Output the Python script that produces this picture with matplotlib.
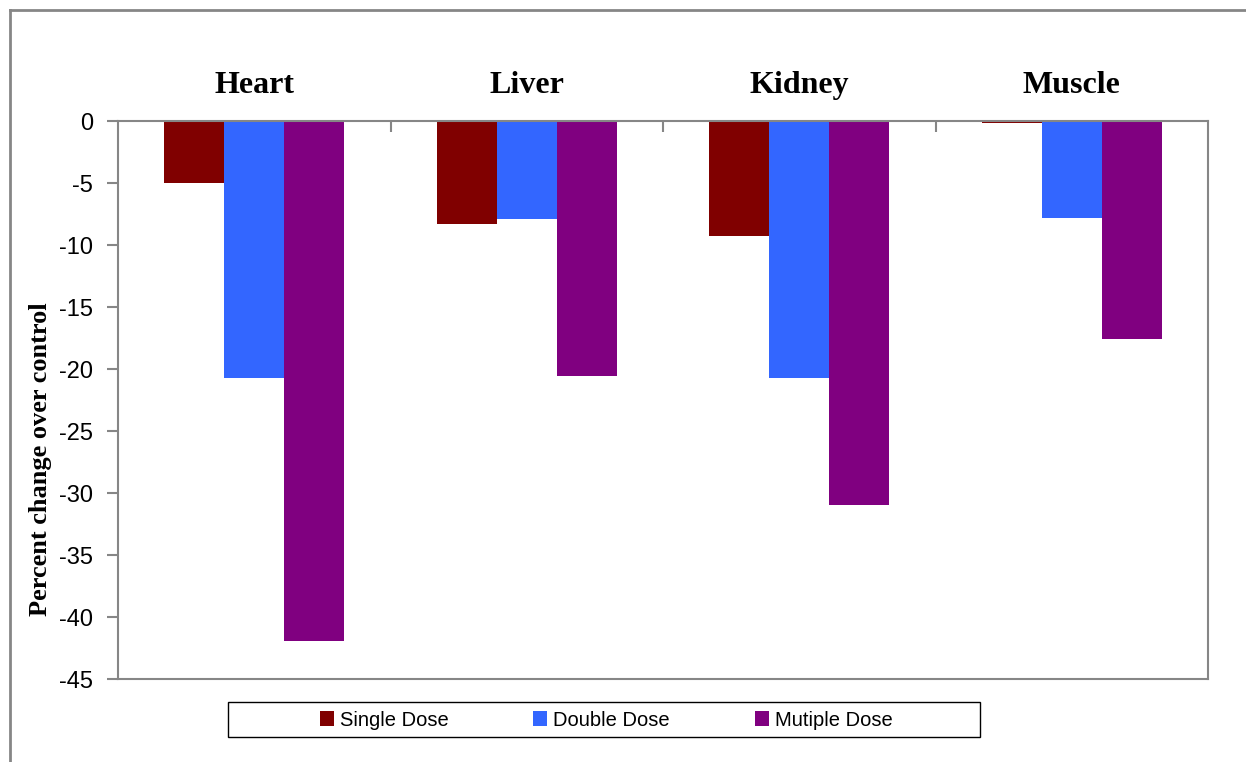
import numpy as np
import matplotlib
matplotlib.use("Agg")
import matplotlib.pyplot as plt
from matplotlib.lines import Line2D
from matplotlib.patches import Rectangle

organs = ["Heart", "Liver", "Kidney", "Muscle"]
series = ["Single Dose", "Double Dose", "Mutiple Dose"]
single = [-5.0, -8.3, -9.3, -0.2]
double = [-20.7, -7.9, -20.7, -7.8]
multiple = [-41.9, -20.6, -31.0, -17.6]
colors = ["#800000", "#3366ff", "#800080"]
yticks = [0, -5, -10, -15, -20, -25, -30, -35, -40, -45]

W, H = 1246, 762
fig = plt.figure(figsize=(W / 100, H / 100), dpi=100)
ax = fig.add_axes([118 / W, 1 - 679 / H, 1090 / W, 558 / H])

x = np.arange(len(organs))
w = 0.22
for i, (vals, lab) in enumerate(zip([single, double, multiple], series)):
    ax.bar(x + (i - 1) * w, vals, w, color=colors[i], label=lab, zorder=2)

ax.set_xlim(-0.5, 3.5)
ax.set_ylim(-45, 0)
ax.set_yticks(yticks)
ax.set_yticklabels([str(t) for t in yticks], fontsize=17, family="Liberation Sans")

# category labels on top
ax.xaxis.tick_top()
ax.set_xticks(x)
ax.set_xticklabels(organs, fontsize=23, fontweight="bold", family="Liberation Serif")
ax.tick_params(axis="x", which="major", length=0, pad=15)
ax.set_xticks([0.5, 1.5, 2.5], minor=True)
ax.tick_params(axis="x", which="minor", direction="in", length=8, color="#868686", width=1.5, top=True, bottom=False)
ax.tick_params(axis="y", direction="out", length=8, color="#868686", width=1.5, pad=10)

for s in ax.spines.values():
    s.set_color("#868686")
    s.set_linewidth(1.5)

ax.set_ylabel("Percent change over control", fontsize=19, fontweight="bold",
              family="Liberation Serif")
ax.yaxis.set_label_coords(-0.061, 0.394)

leg = fig.legend(loc="center", bbox_to_anchor=(0.4865, 0.055), ncol=3,
                 prop={"family": "Liberation Sans", "size": 14.5},
                 handlelength=0.7, handleheight=0.7, handletextpad=0.3,
                 columnspacing=4.2, frameon=False)
# legend box
fig.add_artist(Rectangle((228 / W, 1 - 737 / H), 752 / W, 35 / H,
                         transform=fig.transFigure, fill=False,
                         edgecolor="black", lw=1.0))

# outer chart frame
fig.add_artist(Line2D([10 / W, 10 / W], [0, 1 - 10 / H], color="#868686", lw=2))
fig.add_artist(Line2D([10 / W, 1], [1 - 10 / H, 1 - 10 / H], color="#868686", lw=2))

fig.savefig("out.png", dpi=100)
